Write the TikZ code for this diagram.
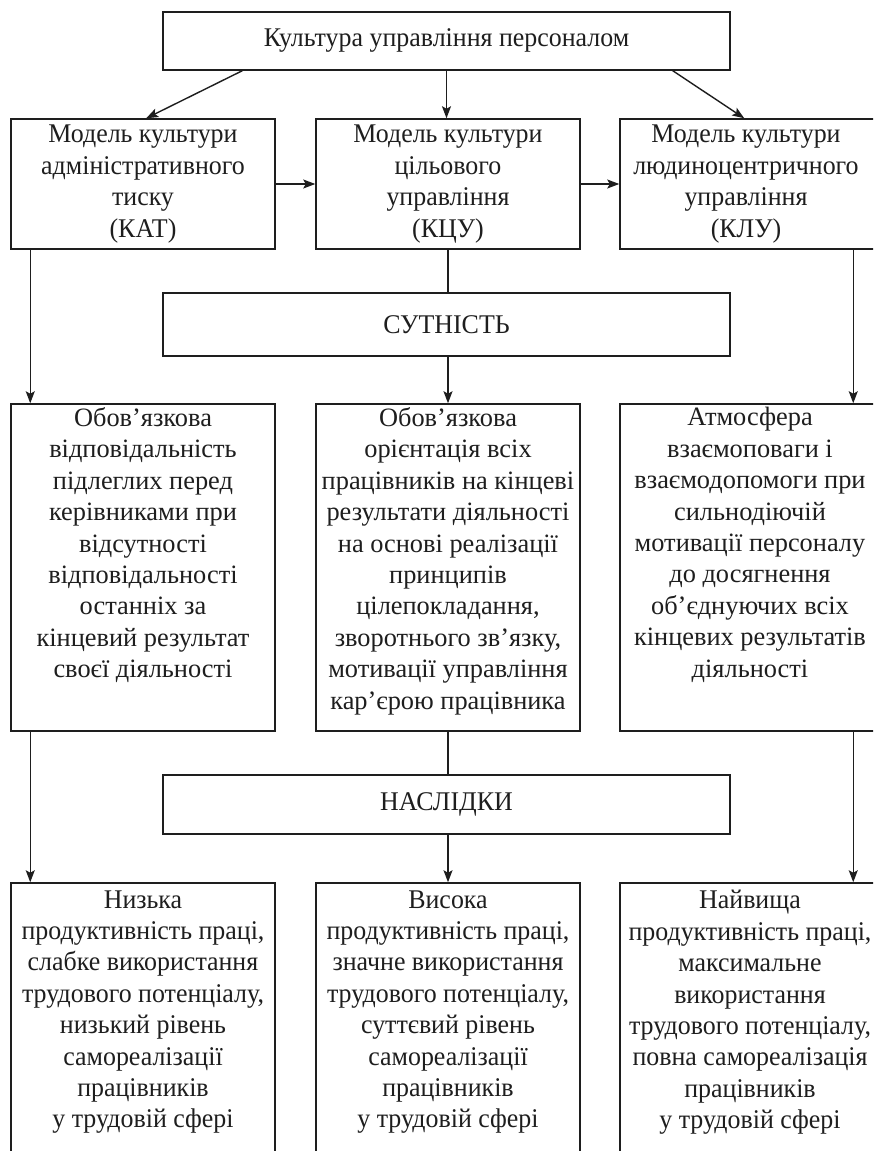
\documentclass[tikz,border=0pt]{standalone}
\usepackage{fontspec}
\setmainfont{Liberation Serif}
\newfontfamily\cfont{Liberation Serif}[FakeStretch=0.96]
\newfontfamily\wfont{Liberation Serif}[FakeStretch=0.995]
\usetikzlibrary{arrows.meta}
\definecolor{ink}{HTML}{1E1E1E}
\begin{document}
\begin{tikzpicture}[x=1pt,y=-1pt,
  boxst/.style={draw=ink, line width=1.5pt, inner sep=0pt},
  txta/.style={align=center, inner sep=0pt, text=ink, font=\cfont\fontsize{27}{31.5}\selectfont},
  txtb/.style={align=center, inner sep=0pt, text=ink, font=\wfont\fontsize{26.5}{31.4}\selectfont},
  txtc/.style={align=center, inner sep=0pt, text=ink, font=\cfont\fontsize{27}{31.4}\selectfont},
  ln/.style={draw=ink, line width=1.4pt},
  arr/.style={draw=ink, line width=1.4pt, -{Stealth[length=12pt,width=9pt,inset=2.5pt]}}]
\useasboundingbox (0,0) rectangle (873,1151);
\clip (0,0) rectangle (873,1151);
\fill[white] (0,0) rectangle (873,1151);
% top
\node[boxst, minimum width=567pt, minimum height=58pt] (top) at (446.5,41) {};
\node[txta] (topt) at ([yshift=1pt]top.center) {Культура управління персоналом};
% row 1
\node[boxst, minimum width=264pt, minimum height=130pt] (m1) at (143,184) {};
\node[boxst, minimum width=264pt, minimum height=130pt] (m2) at (448,184) {};
\node[boxst, minimum width=260pt, minimum height=130pt] (m3) at (750,184) {};
\node[txta] (m1t) at (m1.center) {Модель культури\\адміністративного\\тиску\\(КАТ)};
\node[txta] (m2t) at (m2.center) {Модель культури\\цільового\\управління\\(КЦУ)};
\node[txta] (m3t) at ([xshift=-4pt]m3.center) {Модель культури\\людиноцентричного\\управління\\(КЛУ)};
% sutnist
\node[boxst, minimum width=567pt, minimum height=63pt] (sut) at (446.5,324.5) {};
\node[txta] (sutt) at (sut.center) {СУТНІСТЬ};
% row 2
\node[boxst, minimum width=264pt, minimum height=327pt] (s1) at (143,567.5) {};
\node[boxst, minimum width=264pt, minimum height=327pt] (s2) at (448,567.5) {};
\node[boxst, minimum width=260pt, minimum height=327pt] (s3) at (750,567.5) {};
\node[txtb, anchor=north] (s1t) at ([yshift=-4pt]s1.north) {Обов’язкова\\відповідальність\\підлеглих перед\\керівниками при\\відсутності\\відповідальності\\останніх за\\кінцевий результат\\своєї діяльності};
\node[txtb, anchor=north] (s2t) at ([yshift=-4pt]s2.north) {Обов’язкова\\орієнтація всіх\\працівників на кінцеві\\результати діяльності\\на основі реалізації\\принципів\\цілепокладання,\\зворотнього зв’язку,\\мотивації управління\\кар’єрою працівника};
\node[txtb, anchor=north] (s3t) at ([yshift=-4pt]s3.north) {Атмосфера\\взаємоповаги і\\взаємодопомоги при\\сильнодіючій\\мотивації персоналу\\до досягнення\\об’єднуючих всіх\\кінцевих результатів\\діяльності};
% naslidky
\node[boxst, minimum width=567pt, minimum height=59pt] (nas) at (446.5,804.5) {};
\node[txta] (nast) at (nas.center) {НАСЛІДКИ};
% row 3
\node[boxst, minimum width=264pt, minimum height=292pt] (n1) at (143,1029) {};
\node[boxst, minimum width=264pt, minimum height=292pt] (n2) at (448,1029) {};
\node[boxst, minimum width=260pt, minimum height=292pt] (n3) at (750,1029) {};
\node[txtc, anchor=north] (n1t) at ([yshift=-8pt]n1.north) {Низька\\продуктивність праці,\\слабке використання\\трудового потенціалу,\\низький рівень\\самореалізації\\працівників\\у трудовій сфері};
\node[txtc, anchor=north] (n2t) at ([yshift=-8pt]n2.north) {Висока\\продуктивність праці,\\значне використання\\трудового потенціалу,\\суттєвий рівень\\самореалізації\\працівників\\у трудовій сфері};
\node[txtc, anchor=north] (n3t) at ([yshift=-8pt]n3.north) {Найвища\\продуктивність праці,\\максимальне\\використання\\трудового потенціалу,\\повна самореалізація\\працівників\\у трудовій сфері};
% connectors top
\draw[arr] ([xshift=80pt]top.south west) -- ([xshift=136pt]m1.north west);
\draw[arr] (top.south) -- (top.south |- m2.north);
\draw[arr] ([xshift=-58pt]top.south east) -- ([xshift=125pt]m3.north west);
\draw[arr] (m1.east) -- (m2.west);
\draw[arr] (m2.east) -- (m3.west);
% row1 -> row2
\draw[arr] ([xshift=20pt]m1.south west) -- ([xshift=20pt]s1.north west);
\draw[ln] (m2.south) -- (m2.south |- sut.north);
\draw[arr] (s2.north |- sut.south) -- (s2.north);
\draw[arr] ([xshift=234pt]m3.south west) -- ([xshift=234pt]s3.north west);
% row2 -> row3
\draw[arr] ([xshift=20pt]s1.south west) -- ([xshift=20pt]n1.north west);
\draw[ln] (s2.south) -- (s2.south |- nas.north);
\draw[arr] (n2.north |- nas.south) -- (n2.north);
\draw[arr] ([xshift=234pt]s3.south west) -- ([xshift=234pt]n3.north west);
\end{tikzpicture}
\end{document}
